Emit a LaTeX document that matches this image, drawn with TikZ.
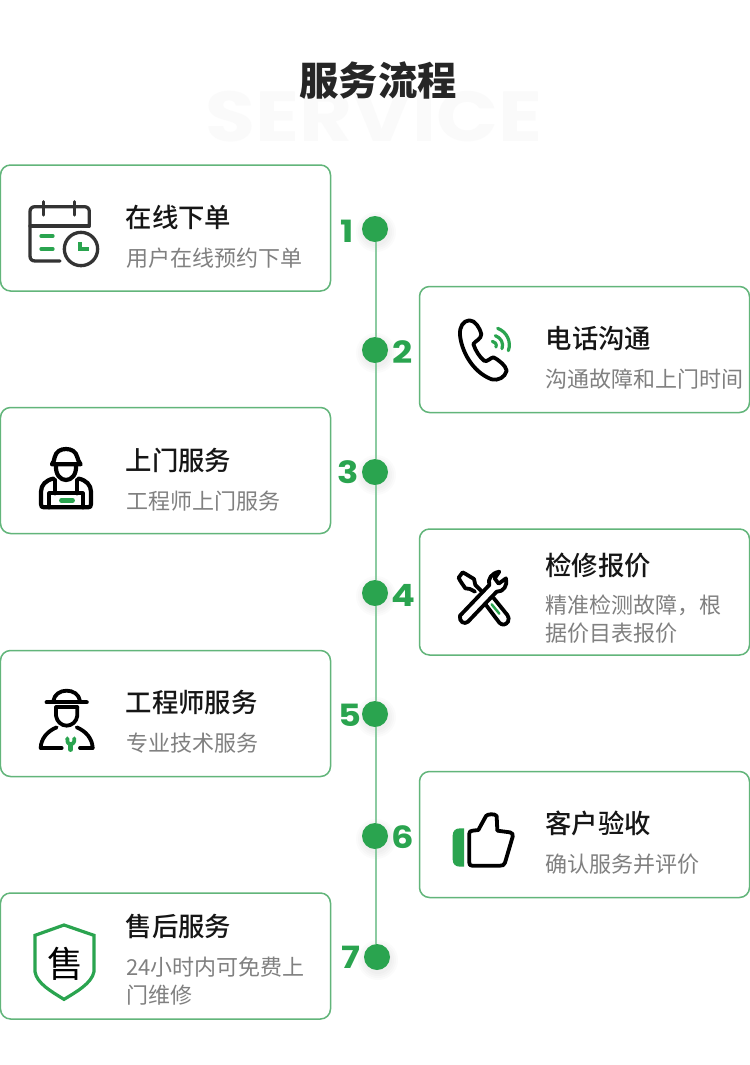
\documentclass[tikz,border=0pt]{standalone}
\usepackage{fontspec}
\setmainfont{Noto Sans CJK SC}
\newfontfamily\cjktitle{Noto Sans CJK SC Black}
\newfontfamily\cjkhead{Noto Sans CJK SC Medium}
\newfontfamily\numfont[FakeStretch=1.15]{Poppins}
\newfontfamily\wmfont[FakeStretch=1.15]{Poppins}
\definecolor{brandgreen}{HTML}{2AA44F}
\definecolor{cardline}{HTML}{62B57A}
\definecolor{trackline}{HTML}{8CCBA1}
\definecolor{subgray}{HTML}{808080}
\definecolor{headblack}{HTML}{161616}
\definecolor{icondark}{HTML}{333333}
\definecolor{wmgray}{HTML}{FAFAFA}
\newlength{\pxu}\setlength{\pxu}{0.75pt}
\tikzset{
  card/.style={draw=cardline,line width=1.5\pxu,rounded corners=10\pxu,fill=white,minimum width=330\pxu,minimum height=126\pxu,inner sep=0pt},
  headtext/.style={anchor=west,inner sep=0pt,text=headblack,font=\cjkhead\fontsize{19.8pt}{24pt}\selectfont},
  subtext/.style={anchor=west,inner sep=0pt,text=subgray,align=left,font=\fontsize{16.5pt}{19.9pt}\selectfont},
  dot/.style={circle,fill=brandgreen,minimum size=26\pxu,inner sep=0pt},
  track/.style={draw=trackline,line width=2\pxu},
  numtext/.style={inner sep=0pt,text=brandgreen,font=\numfont\bfseries\fontsize{23pt}{26pt}\selectfont},
  ink/.style={draw=black,line width=3.8\pxu,line cap=round,line join=round},
  inkdark/.style={draw=icondark,line width=3.3\pxu,line cap=round,line join=round},
  accent/.style={draw=brandgreen,line width=3.2\pxu,line cap=round,line join=round},
  zoomA/.style={shift={#1},scale=1/3},
}
\begin{document}
\begin{tikzpicture}[x=0.75pt,y=-0.75pt]
\useasboundingbox (0,0) rectangle (750,1065);
\fill[white] (0,0) rectangle (750,1065);

% title
\node[inner sep=0pt,text=wmgray,font=\wmfont\bfseries\fontsize{53pt}{60pt}\selectfont] (wm) at (374,117) {SERVICE};
\node[inner sep=0pt,text=black!85,font=\cjktitle\fontsize{29.5pt}{34pt}\selectfont] (title) at (378,81) {服务流程};

% cards
\node[card] (c1) at (165.5,228) {};
\node[card] (c2) at (584.5,349.5) {};
\node[card] (c3) at (165.5,470.5) {};
\node[card] (c4) at (584.5,592) {};
\node[card] (c5) at (165.5,713.5) {};
\node[card] (c6) at (584.5,834.5) {};
\node[card] (c7) at (165.5,956) {};

% card text
\node[headtext] (h1) at (125.5,217.5) {在线下单};
\node[subtext]  (s1) at (126,258) {用户在线预约下单};
\node[headtext] (h2) at (545.5,338.5) {电话沟通};
\node[subtext]  (s2) at (545.5,379) {沟通故障和上门时间};
\node[headtext] (h3) at (125.5,460.5) {上门服务};
\node[subtext]  (s3) at (126,501) {工程师上门服务};
\node[headtext] (h4) at (545,565.5) {检修报价};
\node[subtext]  (s4) at (545,619.5) {精准检测故障，根\\[1.2pt]据价目表报价};
\node[headtext] (h5) at (125.5,702.5) {工程师服务};
\node[subtext]  (s5) at (126,743) {专业技术服务};
\node[headtext] (h6) at (545,823.5) {客户验收};
\node[subtext]  (s6) at (545,864) {确认服务并评价};
\node[headtext] (h7) at (125.5,926.5) {售后服务};
\node[subtext]  (s7) at (126,981) {24小时内可免费上\\[1.2pt]门维修};

% dot shadows
\foreach \cx/\cy in {375/229,375/350,375/472,375/593,375/714,375/836,377/957}{
  \foreach \r in {20,18,16,14}{
    \fill[black,opacity=0.016] (\cx+1,\cy+3) circle[radius=\r];
  }
}
% dots
\node[dot] (d1) at (375,229) {};
\node[dot] (d2) at (375,350) {};
\node[dot] (d3) at (375,472) {};
\node[dot] (d4) at (375,593) {};
\node[dot] (d5) at (375,714) {};
\node[dot] (d6) at (375,836) {};
\node[dot] (d7) at (377,957) {};
% track
\draw[track] ([xshift=1\pxu]d1.south) -- ([xshift=1\pxu]d2.north);
\draw[track] ([xshift=1\pxu]d2.south) -- ([xshift=1\pxu]d3.north);
\draw[track] ([xshift=1\pxu]d3.south) -- ([xshift=1\pxu]d4.north);
\draw[track] ([xshift=1\pxu]d4.south) -- ([xshift=1\pxu]d5.north);
\draw[track] ([xshift=1\pxu]d5.south) -- ([xshift=1\pxu]d6.north);
\draw[track] ([xshift=1\pxu]d6.south) -- ([xshift=-1\pxu]d7.north);
% numbers
\node[numtext] (n1) at (347,231) {1};
\node[numtext] (n2) at (403,352) {2};
\node[numtext] (n3) at (348,472) {3};
\node[numtext] (n4) at (403,595) {4};
\node[numtext] (n5) at (350,715) {5};
\node[numtext] (n6) at (403,837) {6};
\node[numtext] (n7) at (351,957) {7};

% icon 1: calendar
\begin{scope}[zoomA={(0,150)}]
  \draw[inkdark] (268,225) -- (268,185) .. controls (268,175) and (262,170) .. (252,170) -- (106,170) .. controls (96,170) and (90,175) .. (90,185) -- (90,318) .. controls (90,328) and (96,333) .. (106,333) -- (180,333);
  \draw[inkdark] (90,228) -- (268,228);
  \draw[inkdark] (130,155) -- (130,195);
  \draw[inkdark] (224,155) -- (224,195);
  \draw[inkdark] (243,297) circle[radius=50];
  \draw[accent,line cap=round,line width=4\pxu] (124,258) -- (158,258);
  \draw[accent,line cap=round,line width=4\pxu] (124,297) -- (158,297);
  \draw[accent,line width=3.8\pxu,line cap=butt,line join=miter] (240,276) -- (240,298) -- (268,298);
\end{scope}

% icon 2: phone
\begin{scope}[zoomA={(430,300)}]
  \draw[ink] (118,61) .. controls (100,62) and (88,80) .. (90,105)
    .. controls (94,150) and (125,215) .. (185,238)
    .. controls (205,243) and (225,232) .. (230,212)
    .. controls (228,198) and (205,178) .. (190,172)
    .. controls (182,172) and (172,188) .. (162,182)
    .. controls (150,172) and (136,152) .. (130,132)
    .. controls (136,122) and (154,118) .. (154,102)
    .. controls (150,85) and (135,60) .. (118,61) -- cycle;
  \draw[accent] (203,85) .. controls (230,95) and (245,125) .. (235,152);
  \draw[accent] (196,107) .. controls (213,113) and (222,130) .. (216,146);
  \draw[accent] (187,124) .. controls (195,125) and (201,132) .. (198,141);
\end{scope}

% icon 3: worker
\begin{scope}[zoomA={(20,430)}]
  \draw[ink,line width=4.2\pxu] (96,103) .. controls (100,95) and (104,90) .. (104,82) .. controls (108,64) and (122,57) .. (138,57) .. controls (154,57) and (168,64) .. (172,82) .. controls (172,90) and (178,95) .. (182,103) -- cycle;
  \draw[ink,line width=4.2\pxu] (108,106) .. controls (106,135) and (122,150) .. (138,150) .. controls (154,150) and (170,135) .. (168,106);
  \draw[ink,line width=4.2\pxu] (100,146) .. controls (78,150) and (63,165) .. (63,185) -- (63,222) .. controls (63,230) and (66,232) .. (72,232) -- (204,232) .. controls (210,232) and (213,230) .. (213,222) -- (213,185) .. controls (213,165) and (198,150) .. (176,146);
  \draw[ink,line width=4.2\pxu] (88,232) -- (88,190) -- (188,190) -- (188,232);
  \draw[ink,line width=4.2\pxu] (104,150) -- (104,190);
  \draw[ink,line width=4.2\pxu] (172,150) -- (172,190);
  \draw[accent,line width=4.5\pxu] (124,211) -- (158,211);
\end{scope}

% icon 4: tools
\begin{scope}[zoomA={(440,555)}]
  \draw[ink] (105,110) -- (90,102) -- (76,100) .. controls (68,88) and (60,78) .. (56,68) -- (68,52) .. controls (80,58) and (90,65) .. (102,72) -- (106,90) -- (124,108);
  \draw[ink] (138,150) -- (178,203) .. controls (186,212) and (198,210) .. (204,200) .. controls (208,192) and (206,186) .. (202,180) -- (160,128);
  \draw[accent,line width=2.5\pxu] (155,148) -- (178,176);
  \draw[ink] (148,90) .. controls (142,72) and (155,54) .. (178,50) -- (164,70) -- (176,86) -- (198,70) .. controls (204,90) and (190,112) .. (170,110)
     -- (84,200) .. controls (74,210) and (56,200) .. (60,182) -- cycle;
\end{scope}

% icon 5: engineer
\begin{scope}[zoomA={(25,675)}]
  \draw[ink] (85,78) .. controls (88,58) and (105,47) .. (125,47) .. controls (145,47) and (162,58) .. (165,78);
  \draw[ink,line width=4.2\pxu] (65,82) -- (185,82);
  \draw[ink] (93,97) -- (157,97);
  \draw[ink] (93,97) -- (93,122) .. controls (95,140) and (110,152) .. (125,152) .. controls (140,152) and (155,140) .. (157,122) -- (157,97);
  \draw[ink] (47,219) -- (110,219);
  \draw[ink] (165,219) -- (203,219);
  \draw[ink] (47,219) .. controls (48,190) and (68,168) .. (95,157);
  \draw[ink] (203,219) .. controls (202,190) and (182,168) .. (155,157);
  \draw[accent,line width=3.8\pxu] (127,190) .. controls (126,205) and (132,208) .. (137,208) .. controls (142,208) and (149,205) .. (148,190);
  \draw[accent,line width=4.5\pxu] (137,208) -- (137,224);
\end{scope}

% icon 6: thumb
\begin{scope}[zoomA={(440,800)}]
  \fill[brandgreen] (72,85) -- (72,200) -- (60,200) .. controls (46,200) and (38,192) .. (38,178) -- (38,107) .. controls (38,93) and (46,85) .. (60,85) -- cycle;
  \draw[ink] (98,92) -- (115,90) -- (138,48) .. controls (142,42) and (165,40) .. (170,48) -- (172,92) -- (210,97) .. controls (218,98) and (219,104) .. (218,110) -- (195,188) .. controls (192,196) and (188,197) .. (180,197) -- (96,197) .. controls (90,197) and (88,194) .. (88,188) -- (88,100) .. controls (88,95) and (92,92) .. (98,92) -- cycle;
\end{scope}

% icon 7: shield
\begin{scope}[zoomA={(20,910)}]
  \draw[accent,line width=3.2\pxu,line cap=butt,line join=miter] (132,45) -- (222,76) -- (222,185) .. controls (215,220) and (170,245) .. (132,268) .. controls (95,245) and (50,220) .. (45,185) -- (45,76) -- cycle;
  \node[inner sep=0pt,text=black,font=\fontsize{27pt}{30pt}\selectfont] (shieldtext) at (136,160) {售};
\end{scope}
\end{tikzpicture}
\end{document}
